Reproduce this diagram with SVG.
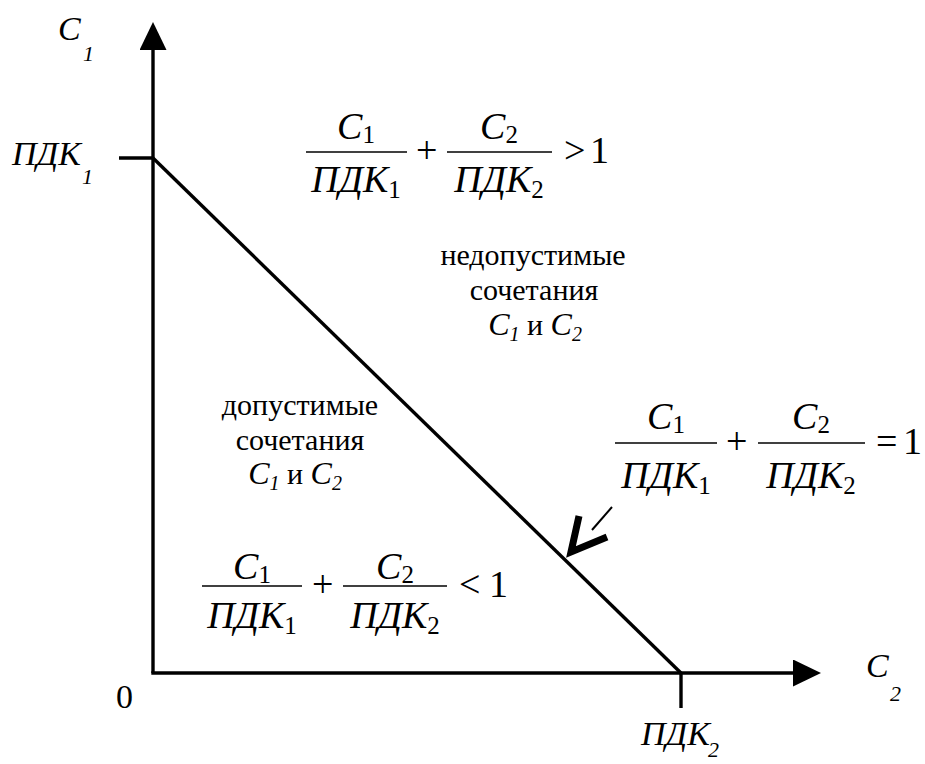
<svg xmlns="http://www.w3.org/2000/svg" width="925" height="764" viewBox="0 0 925 764">
<style>
  .ln{stroke:#000;stroke-width:3.4;fill:none;stroke-linecap:butt}
  .bar{stroke:#000;stroke-width:1.5}
  text{font-family:"Liberation Serif","Times New Roman",serif;fill:#000}
  .f{font-size:38px}
  .i{font-style:italic}
  .sub{font-size:25px;font-style:normal}
  .ax{font-size:34px;font-style:italic}
  .axs{font-size:22px;font-style:italic}
  .lab{font-size:30px;text-anchor:middle}
  .mid{text-anchor:middle}
</style>
<defs>
  <marker id="ah" markerUnits="userSpaceOnUse" markerWidth="28" markerHeight="28" viewBox="0 0 28 28" refX="0" refY="13.5" orient="auto">
    <path d="M0,0 L28,13.5 L0,27 z" fill="#000"/>
  </marker>
</defs>
<rect width="925" height="764" fill="#fff"/>

<g id="connectors">
  <line class="ln" x1="153" y1="673" x2="153" y2="50" marker-end="url(#ah)"/>
  <line class="ln" x1="151.3" y1="673" x2="793" y2="673" marker-end="url(#ah)"/>
  <line class="ln" x1="119" y1="158" x2="153" y2="158"/>
  <line class="ln" x1="681" y1="673" x2="681" y2="708"/>
  <line class="ln" x1="153" y1="158" x2="681" y2="673"/>
  <line x1="612" y1="507" x2="592" y2="530" stroke="#000" stroke-width="2"/>
  <polyline points="579,516 571,552 607,537" fill="none" stroke="#000" stroke-width="7" stroke-linejoin="miter"/>
</g>

<g id="label-c1-axis">
  <text class="ax" x="58" y="40">C</text>
  <text class="axs" x="83" y="61">1</text>
</g>
<g id="label-pdk1">
  <text class="ax" x="12" y="165">ПДК</text>
  <text class="axs" x="82" y="184">1</text>
</g>
<g id="label-zero">
  <text x="116" y="708" font-size="34">0</text>
</g>
<g id="label-c2-axis">
  <text class="ax" x="866" y="677">C</text>
  <text class="axs" x="890" y="701">2</text>
</g>
<g id="label-pdk2">
  <text class="ax" x="641" y="745">ПДК</text>
  <text class="axs" x="708" y="757" font-size="20">2</text>
</g>

<g id="formula-gt">
  <line class="bar" x1="306" y1="152" x2="407" y2="152"/>
  <line class="bar" x1="447" y1="152" x2="552" y2="152"/>
  <text class="f mid" x="356" y="139"><tspan class="i">C</tspan><tspan class="sub" dy="4">1</tspan></text>
  <text class="f mid" x="356" y="192"><tspan class="i">ПДК</tspan><tspan class="sub" dy="6">1</tspan></text>
  <text class="f" x="416" y="163">+</text>
  <text class="f mid" x="499" y="139"><tspan class="i">C</tspan><tspan class="sub" dy="4">2</tspan></text>
  <text class="f mid" x="499" y="192"><tspan class="i">ПДК</tspan><tspan class="sub" dy="6">2</tspan></text>
  <text class="f" x="564" y="163">&gt;</text>
  <text class="f" x="590" y="163">1</text>
</g>

<g id="label-inadmissible">
  <text class="lab" x="533" y="265">недопустимые</text>
  <text class="lab" x="534" y="300">сочетания</text>
  <text class="lab" x="535" y="335"><tspan class="i" font-size="32">C</tspan><tspan class="i" font-size="20" dy="6">1</tspan><tspan dy="-6"> и </tspan><tspan class="i" font-size="32">C</tspan><tspan class="i" font-size="20" dy="6">2</tspan></text>
</g>

<g id="label-admissible">
  <text class="lab" x="300" y="415">допустимые</text>
  <text class="lab" x="300" y="450">сочетания</text>
  <text class="lab" x="295" y="484"><tspan class="i" font-size="32">C</tspan><tspan class="i" font-size="20" dy="6">1</tspan><tspan dy="-6"> и </tspan><tspan class="i" font-size="32">C</tspan><tspan class="i" font-size="20" dy="6">2</tspan></text>
</g>

<g id="formula-eq">
  <line class="bar" x1="615" y1="443" x2="717" y2="443"/>
  <line class="bar" x1="758" y1="443" x2="865" y2="443"/>
  <text class="f mid" x="666" y="429"><tspan class="i">C</tspan><tspan class="sub" dy="4">1</tspan></text>
  <text class="f mid" x="666" y="488"><tspan class="i">ПДК</tspan><tspan class="sub" dy="6">1</tspan></text>
  <text class="f" x="726" y="454">+</text>
  <text class="f mid" x="811" y="429"><tspan class="i">C</tspan><tspan class="sub" dy="4">2</tspan></text>
  <text class="f mid" x="811" y="488"><tspan class="i">ПДК</tspan><tspan class="sub" dy="6">2</tspan></text>
  <text class="f" x="876" y="454">=</text>
  <text class="f" x="903" y="454">1</text>
</g>

<g id="formula-lt">
  <line class="bar" x1="202" y1="586" x2="302" y2="586"/>
  <line class="bar" x1="343" y1="586" x2="447" y2="586"/>
  <text class="f mid" x="252" y="579"><tspan class="i">C</tspan><tspan class="sub" dy="4">1</tspan></text>
  <text class="f mid" x="252" y="628"><tspan class="i">ПДК</tspan><tspan class="sub" dy="6">1</tspan></text>
  <text class="f" x="312" y="597">+</text>
  <text class="f mid" x="395" y="579"><tspan class="i">C</tspan><tspan class="sub" dy="4">2</tspan></text>
  <text class="f mid" x="395" y="628"><tspan class="i">ПДК</tspan><tspan class="sub" dy="6">2</tspan></text>
  <text class="f" x="459" y="597">&lt;</text>
  <text class="f" x="489" y="597">1</text>
</g>
</svg>
